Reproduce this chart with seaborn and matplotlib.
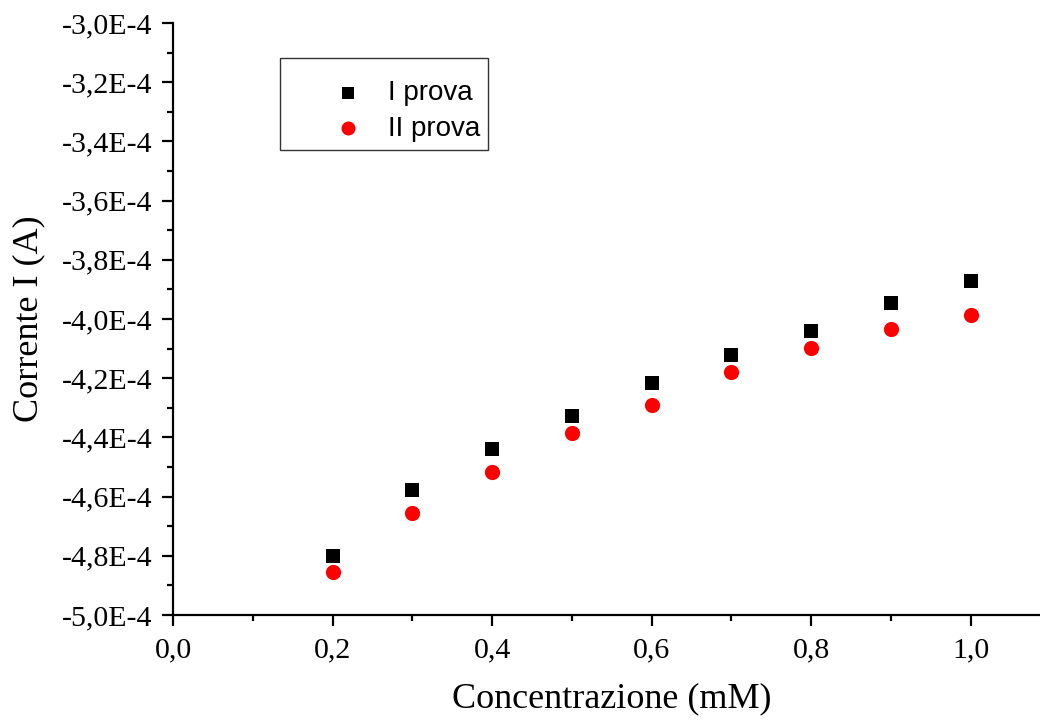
import numpy as np
import pandas as pd
import matplotlib
matplotlib.use("Agg")
import matplotlib.pyplot as plt
from matplotlib.ticker import MultipleLocator, FuncFormatter
import seaborn as sns

# Concentrazioni (mM) e correnti misurate (A)
concentrazione = [0.2, 0.3, 0.4, 0.5, 0.6, 0.7, 0.8, 0.9, 1.0]
corrente_prova1 = [-4.800e-4, -4.578e-4, -4.439e-4, -4.327e-4, -4.215e-4,
                   -4.123e-4, -4.040e-4, -3.947e-4, -3.872e-4]
corrente_prova2 = [-4.856e-4, -4.656e-4, -4.518e-4, -4.386e-4, -4.291e-4,
                   -4.180e-4, -4.097e-4, -4.035e-4, -3.988e-4]
serie = ["I prova", "II prova"]

df = pd.DataFrame({
    "conc": concentrazione * 2,
    "corrente": corrente_prova1 + corrente_prova2,
    "prova": [serie[0]] * len(concentrazione) + [serie[1]] * len(concentrazione),
})

sns.set_style("ticks")
plt.rcParams["font.family"] = ["Liberation Serif", "DejaVu Serif"]
plt.rcParams["axes.linewidth"] = 1.6
plt.rcParams["text.color"] = "black"
plt.rcParams["axes.labelcolor"] = "black"
plt.rcParams["xtick.color"] = "black"
plt.rcParams["ytick.color"] = "black"
plt.rcParams["axes.edgecolor"] = "black"

fig = plt.figure(figsize=(10.4, 7.22), dpi=100)
ax = fig.add_axes([173.3 / 1040, 107 / 722, 877 / 1040, 592 / 722])

sns.scatterplot(data=df[df["prova"] == serie[0]], x="conc", y="corrente",
                color="black", marker="s", s=95, linewidth=0, ax=ax,
                label=serie[0])
sns.scatterplot(data=df[df["prova"] == serie[1]], x="conc", y="corrente",
                color="red", marker="o", s=120, linewidth=0, ax=ax,
                label=serie[1])

ax.set_xlim(0, 1.1)
ax.set_ylim(-5.0e-4, -3.0e-4)
ax.xaxis.set_major_locator(MultipleLocator(0.2))
ax.xaxis.set_minor_locator(MultipleLocator(0.1))
ax.yaxis.set_major_locator(MultipleLocator(0.2e-4))
ax.yaxis.set_minor_locator(MultipleLocator(0.1e-4))

ax.xaxis.set_major_formatter(FuncFormatter(lambda v, p: f"{v:.1f}".replace(".", ",")))
ax.yaxis.set_major_formatter(
    FuncFormatter(lambda v, p: f"{v / 1e-4:.1f}".replace(".", ",") + "E-4"))

ax.tick_params(axis="both", which="major", direction="out", length=8, width=1.6,
               labelsize=21.5, colors="black")
ax.tick_params(axis="both", which="minor", direction="out", length=4.5, width=1.6)
ax.tick_params(axis="y", which="major", pad=7)
ax.tick_params(axis="x", which="major", pad=8)

for side in ["top", "right"]:
    ax.spines[side].set_visible(False)

ax.set_xlabel("Concentrazione (mM)", fontsize=26, labelpad=14)
ax.set_ylabel("Corrente I (A)", fontsize=26, labelpad=12)

leg = ax.legend(loc="upper left", bbox_to_anchor=(280 / 1040, 1 - 58 / 722),
                bbox_transform=fig.transFigure, frameon=True, fancybox=False,
                prop={"family": "Liberation Sans", "size": 20},
                title=" ", title_fontsize=4,
                borderpad=0.3, handlelength=4.3, handletextpad=-0.72,
                labelspacing=0.33, borderaxespad=0, markerscale=0.92)
leg.get_frame().set_edgecolor("black")
leg.get_frame().set_linewidth(1.0)
for t in leg.get_texts():
    t.set_color("black")

fig.savefig("out.png", dpi=100)
